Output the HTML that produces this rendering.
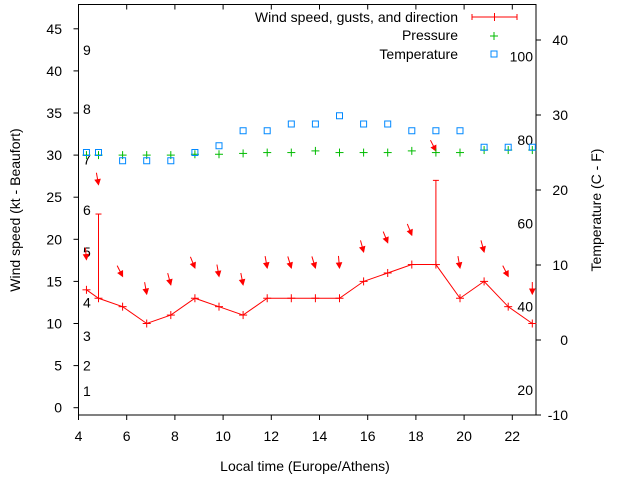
<!DOCTYPE html>
<html><head><meta charset="utf-8"><style>
body{margin:0;background:#fff;}
svg{display:block;font-family:"Liberation Sans",sans-serif;}
</style></head><body>
<svg id="chart" width="640" height="480" viewBox="0 0 640 480" xmlns="http://www.w3.org/2000/svg">
<g id="axes"></g>
<g id="marks"></g>
<g id="legend">
 <text x="458" y="22" font-size="14" text-anchor="end">Wind speed, gusts, and direction</text>
 <g stroke="#f00" stroke-width="1">
  <line x1="472" y1="17" x2="517" y2="17"/><line x1="472" y1="14" x2="472" y2="20"/><line x1="517" y1="14" x2="517" y2="20"/><line x1="494.5" y1="13" x2="494.5" y2="21"/>
 </g>
 <text x="458" y="40" font-size="14" text-anchor="end">Pressure</text>
 <g stroke="#0b0"><line x1="490" y1="36" x2="498" y2="36"/><line x1="494" y1="32" x2="494" y2="40"/></g>
 <text x="458" y="59" font-size="14" text-anchor="end">Temperature</text>
 <rect x="491" y="51" width="6" height="6" fill="none" stroke="#08f"/>
</g>
</svg>
<script>
const times=[4.33,4.83,5.83,6.83,7.83,8.83,9.83,10.83,11.83,12.83,13.83,14.83,15.83,16.83,17.83,18.83,19.83,20.83,21.83,22.83];
const windKt=[14,13,12,10,11,13,12,11,13,13,13,13,15,16,17,17,13,15,12,10];
const gustKt=[null,23,null,null,null,null,null,null,null,null,null,null,null,null,null,27,null,null,null,null];
const arrowKt=[17.6,26.5,15.6,13.5,14.6,16.6,15.6,14.6,16.6,16.6,16.6,16.6,18.5,19.6,20.5,30.5,16.6,18.5,15.6,13.5];
const windDirDeg=[5,10,27,10,15,22,10,11,10,17,17,5,15,22,22,27,10,15,27,0];
const pressure=[30.0,30.0,30.0,30.0,30.0,30.1,30.1,30.2,30.3,30.3,30.5,30.3,30.3,30.3,30.5,30.3,30.3,30.6,30.6,30.6];
const tempC=[25,25,23.9,23.9,23.9,25,25.9,27.9,27.9,28.8,28.8,29.9,28.8,28.8,27.9,27.9,27.9,25.7,25.7,25.7];
const xTicks=[4,6,8,10,12,14,16,18,20,22];
const yTicks=[0,5,10,15,20,25,30,35,40,45];
const y2Ticks=[-10,0,10,20,30,40];
const beaufortLabels=["1","2","3","4","5","6","7","8","9"];
const beaufortKt=[2,5,8.5,12.5,18.5,23.5,29.5,35.5,42.5];
const fahrLabels=["20","40","60","80","100"];
const fahrValues=[20,40,60,80,100];

const L=78.5,R=536,T=4.5,B=415;
const X=t=>L+(t-4)*24.1;
const Y=v=>407.7-v*8.42;
const Y2=c=>340-c*7.5;
const NS="http://www.w3.org/2000/svg";
function mk(tag,attrs,parent){const e=document.createElementNS(NS,tag);for(const k in attrs)e.setAttribute(k,attrs[k]);parent.appendChild(e);return e;}
const axes=document.getElementById('axes'),marks=document.getElementById('marks');

let fr=mk('rect',{x:L,y:T,width:R-L,height:B-T,fill:'none',stroke:'#000','stroke-width':1},axes);


xTicks.forEach(t=>{const x=X(t);
 mk('line',{x1:x,y1:B,x2:x,y2:B+5,stroke:'#000'},axes);
 mk('line',{x1:x,y1:T,x2:x,y2:T+5,stroke:'#000'},axes);
 const tx=mk('text',{x:x,y:441,'font-size':14,'text-anchor':'middle'},axes);tx.textContent=t;
 
 });
yTicks.forEach(v=>{const y=Y(v);
 mk('line',{x1:L-5,y1:y,x2:L,y2:y,stroke:'#000'},axes);
 const tx=mk('text',{x:62,y:y+5,'font-size':14,'text-anchor':'end'},axes);tx.textContent=v;
 
 });
y2Ticks.forEach(v=>{const y=Y2(v);
 mk('line',{x1:R,y1:y,x2:R+5,y2:y,stroke:'#000'},axes);
 const tx=mk('text',{x:568,y:y+5,'font-size':14,'text-anchor':'end'},axes);tx.textContent=v;
 
 });
beaufortLabels.forEach((s,i)=>{const tx=mk('text',{x:83,y:Y(beaufortKt[i])+5,'font-size':14},axes);tx.textContent=s;
 
 });
fahrValues.forEach((f,i)=>{const c=(f-32)*5/9;const tx=mk('text',{x:533,y:Y2(c)+5,'font-size':14,'text-anchor':'end'},axes);tx.textContent=fahrLabels[i];
 
 });
let t1=mk('text',{x:305,y:471,'font-size':14,'text-anchor':'middle'},axes);t1.textContent='Local time (Europe/Athens)';


let t2=mk('text',{x:20,y:210,'font-size':14,'text-anchor':'middle',transform:'rotate(-90 20 210)'},axes);t2.textContent='Wind speed (kt - Beaufort)';


let t3=mk('text',{x:601,y:210,'font-size':14,'text-anchor':'middle',transform:'rotate(-90 601 210)'},axes);t3.textContent='Temperature (C - F)';



// wind line
let pl=mk('polyline',{points:times.map((t,i)=>X(t)+','+Y(windKt[i])).join(' '),fill:'none',stroke:'#f00','stroke-width':1},marks);


times.forEach((t,i)=>{const x=X(t),y=Y(windKt[i]);
 const g=mk('g',{stroke:'#f00','stroke-width':1},marks);
 
 
 mk('line',{x1:x-4,y1:y,x2:x+4,y2:y},g);mk('line',{x1:x,y1:y-4,x2:x,y2:y+4},g);
 if(gustKt[i]!=null){const gy=Y(gustKt[i]);mk('line',{x1:x,y1:y,x2:x,y2:gy},g);mk('line',{x1:x-3,y1:gy,x2:x+3,y2:gy},g);}
 // arrow
 const hy=Y(arrowKt[i]);const a=windDirDeg[i]*Math.PI/180,len=12;
 const tx=x-Math.sin(a)*len,ty=hy-Math.cos(a)*len;
 const ag=mk('g',{stroke:'#f00','stroke-width':1,fill:'#f00'},marks);
 
 
 mk('line',{x1:tx,y1:ty,x2:x,y2:hy},ag);
 const ux=Math.sin(a),uy=Math.cos(a),px=-uy,py=ux;
 mk('polygon',{points:`${x},${hy} ${x-ux*5+px*2.5},${hy-uy*5+py*2.5} ${x-ux*5-px*2.5},${hy-uy*5-py*2.5}`},ag);
});
times.forEach((t,i)=>{const x=X(t),y=Y(pressure[i]);
 const g=mk('g',{stroke:'#0b0','stroke-width':1},marks);
 
 
 mk('line',{x1:x-4,y1:y,x2:x+4,y2:y},g);mk('line',{x1:x,y1:y-4,x2:x,y2:y+4},g);});
times.forEach((t,i)=>{const x=X(t),y=Y2(tempC[i]);
 const r=mk('rect',{x:x-3,y:y-3,width:6,height:6,fill:'none',stroke:'#08f','stroke-width':1},marks);
 
 });
</script>
</body></html>
